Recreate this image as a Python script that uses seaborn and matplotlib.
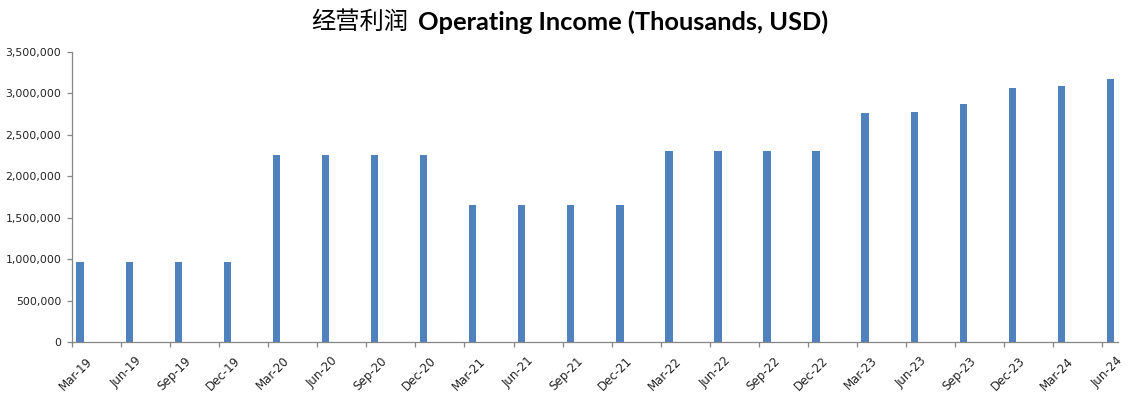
import matplotlib
matplotlib.use("Agg")
import matplotlib.pyplot as plt
import matplotlib.ticker as mticker
import seaborn as sns
import numpy as np
import pandas as pd

# quarterly operating income, thousands USD
quarters = ["Mar-19", "Jun-19", "Sep-19", "Dec-19",
            "Mar-20", "Jun-20", "Sep-20", "Dec-20",
            "Mar-21", "Jun-21", "Sep-21", "Dec-21",
            "Mar-22", "Jun-22", "Sep-22", "Dec-22",
            "Mar-23", "Jun-23", "Sep-23", "Dec-23",
            "Mar-24", "Jun-24"]
income = [965000, 965000, 965000, 965000,
          2255000, 2255000, 2255000, 2255000,
          1655000, 1655000, 1655000, 1655000,
          2308000, 2308000, 2308000, 2308000,
          2768000, 2772000, 2876000, 3066000,
          3093000, 3176000]
yticks = [0, 500000, 1000000, 1500000, 2000000, 2500000, 3000000, 3500000]

sns.set_style("white")
plt.rcParams['font.family'] = ['DejaVu Sans', 'Noto Sans CJK SC']

df = pd.DataFrame({"quarter": quarters, "income": income})

fig = plt.figure(figsize=(11.35, 3.99), dpi=100)
ax = fig.add_axes([0.0634, 0.1429, 0.9216, 0.7268])

sns.barplot(data=df, x="quarter", y="income", color="#4F81BD",
            width=0.15, saturation=1, linewidth=0, ax=ax)

axis_grey = "#868686"
n = len(quarters)
off = 0.167

ax.set_xlim(-off, n - 1 + 0.153)
ax.set_ylim(0, 3500000)
ax.set_yticks(yticks)
ax.yaxis.set_major_formatter(mticker.FuncFormatter(lambda v, p: f"{v:,.0f}"))

# tick marks on category boundaries, labels next to the bars
ax.set_xticks(np.arange(n) - off)
ax.set_xticklabels([])
ax.set_xticks(np.arange(n) + 0.12, minor=True)
ax.set_xticklabels(quarters, minor=True, rotation=45, ha="right",
                   rotation_mode="anchor", fontsize=8.5, color="#222222")
ax.tick_params(axis="x", which="minor", length=0, pad=9)
ax.tick_params(axis="x", which="major", length=3.6, width=0.9,
               color=axis_grey, direction="out", bottom=True)
ax.tick_params(axis="y", length=3.6, width=0.9, color=axis_grey,
               direction="out", left=True, labelsize=7.8,
               labelcolor="#222222", pad=4)

for side in ["top", "right"]:
    ax.spines[side].set_visible(False)
for side in ["left", "bottom"]:
    ax.spines[side].set_color(axis_grey)
    ax.spines[side].set_linewidth(0.9)

ax.set_xlabel("")
ax.set_ylabel("")

fig.text(0.2745, 0.945, "经营利润", ha="left", va="center", fontsize=17.5,
         family=["Noto Sans CJK SC"], color="black")
fig.text(0.3685, 0.945, "Operating Income (Thousands, USD)",
         ha="left", va="center", fontsize=18.3, fontweight="bold",
         family=["Lato"], color="black")

fig.savefig("out.png", dpi=100)
